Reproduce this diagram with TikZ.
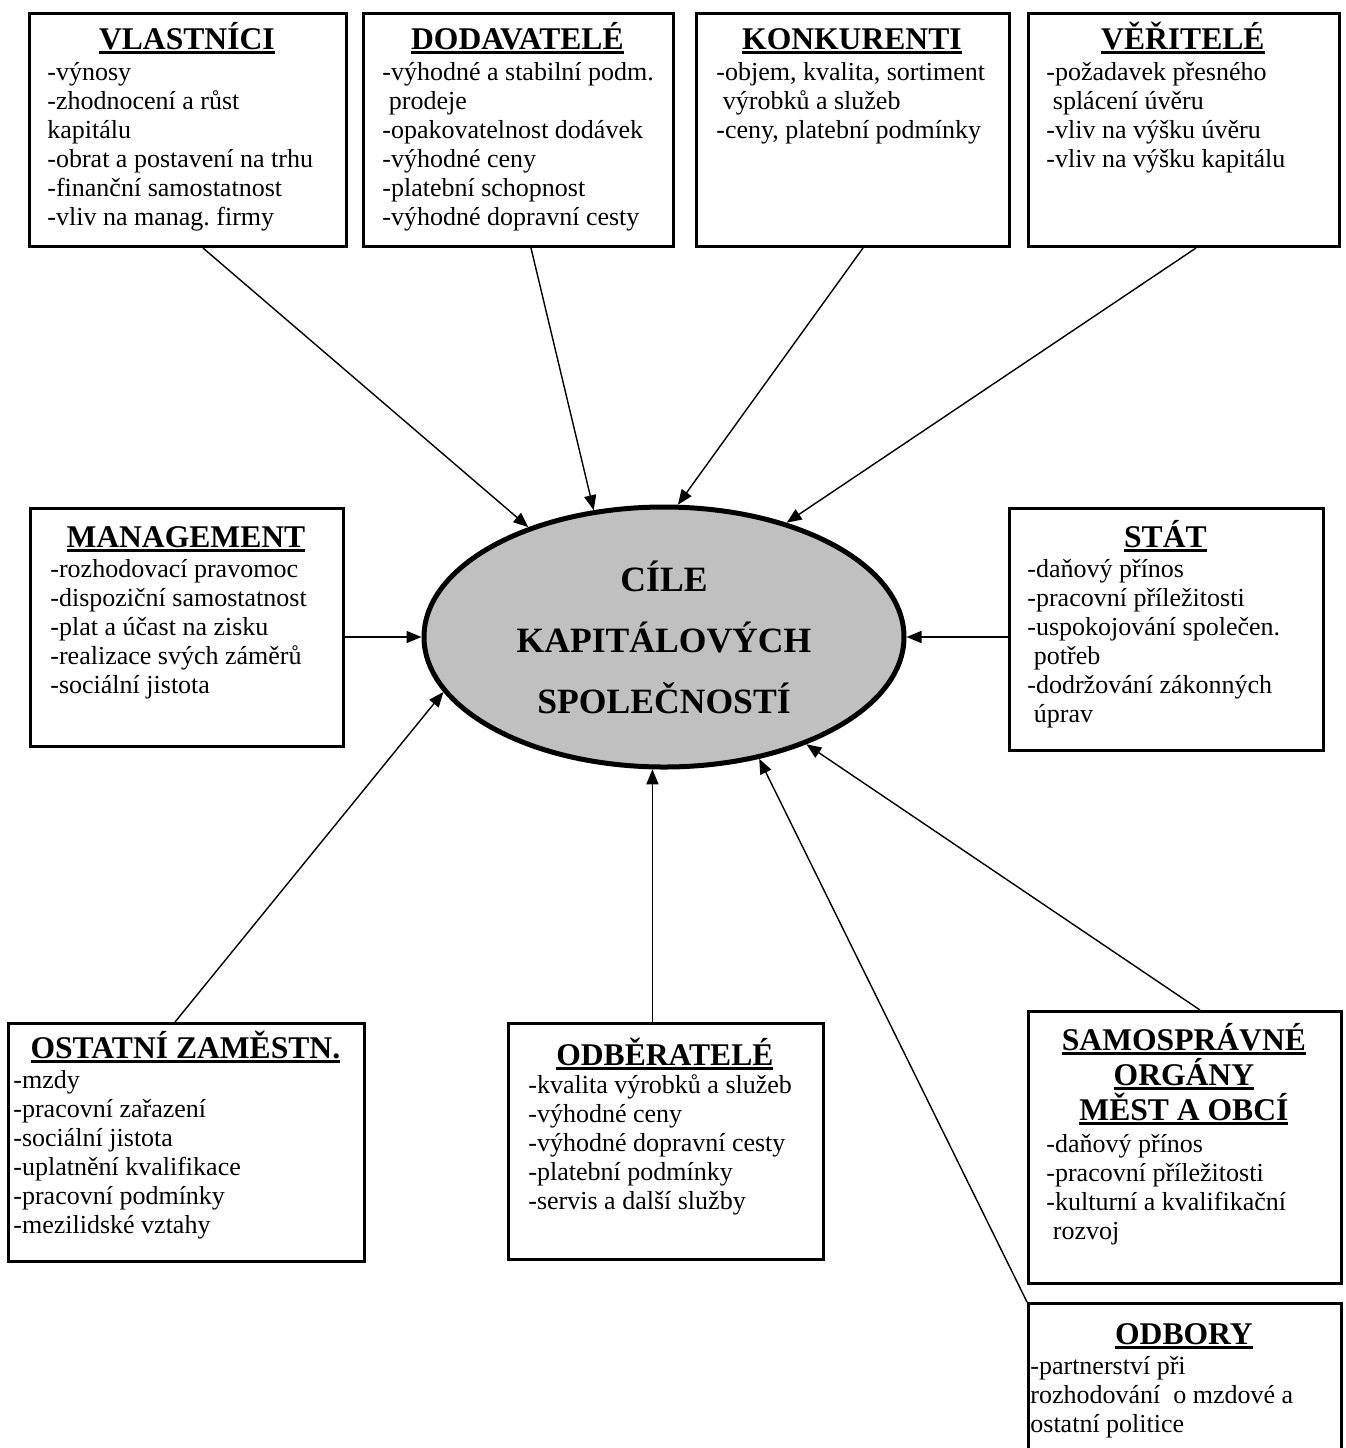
\documentclass[tikz,border=0pt]{standalone}
\usepackage{fontspec}
\setmainfont{Liberation Serif}
\usetikzlibrary{shapes.geometric,arrows.meta,calc}
\definecolor{ellgray}{RGB}{192,192,192}
\frenchspacing

% underlined bold heading
\newcommand\hdline[1]{\setbox0\hbox{\fontsize{15.8}{17}\selectfont\bfseries #1}\rlap{\copy0}\rule[-2.4pt]{\wd0}{1.4pt}}
% heading centred on a given width, with no vertical extent of its own
\newcommand\boxtitle[2]{\makebox[#1][c]{\smash{\hdline{#2}}}}
% first heading of a box: fixed height so that the node top is at a known distance from the baseline
\newcommand\firsttitle[2]{\rule{0pt}{12pt}\boxtitle{#1}{#2}}

\tikzset{
  frame/.style={draw, line width=1.5pt, inner sep=0pt, anchor=north west},
  txt/.style={anchor=north west, inner sep=0pt, align=left, font=\fontsize{13}{14.5}\selectfont},
  conn/.style={line width=0.7pt, -{Triangle[length=7.5pt,width=6pt]}},
  centre/.style={ellipse, draw, line width=2.5pt, fill=ellgray, inner sep=0pt,
    minimum width=240pt, minimum height=130pt, align=center,
    font=\fontsize{17.8}{30.5}\selectfont\bfseries}
}

\begin{document}
\begin{tikzpicture}[x=0.5pt, y=-0.5pt]
\clip (0,0) rectangle (1346,1448);

% central ellipse
\node[centre] (ce) at (664,637) {CÍLE\\KAPITÁLOVÝCH\\SPOLEČNOSTÍ};

% top row
\node[frame, minimum width=158.5pt, minimum height=116.5pt] (vl) at (28,12) {};
\node[txt] (vlt) at (47,25) {\firsttitle{139.5pt}{VLASTNÍCI}\\[1pt]
-výnosy\\-zhodnocení a růst\\kapitálu\\-obrat a postavení na trhu\\-finanční samostatnost\\-vliv na manag. firmy};

\node[frame, minimum width=155pt, minimum height=116.5pt] (do) at (362,12) {};
\node[txt] (dot) at (382,25) {\firsttitle{135pt}{DODAVATELÉ}\\[1pt]
-výhodné a stabilní podm.\\\ prodeje\\-opakovatelnost dodávek\\-výhodné ceny\\-platební schopnost\\-výhodné dopravní cesty};

\node[frame, minimum width=156.5pt, minimum height=116.5pt] (ko) at (695,12) {};
\node[txt] (kot) at (716,25) {\firsttitle{135.5pt}{KONKURENTI}\\[1pt]
-objem, kvalita, sortiment\\\ výrobků a služeb\\-ceny, platební podmínky};

\node[frame, minimum width=155.5pt, minimum height=116.5pt] (ve) at (1027,12) {};
\node[txt] (vet) at (1046,25) {\firsttitle{136.5pt}{VĚŘITELÉ}\\[1pt]
-požadavek přesného\\\ splácení úvěru\\-vliv na výšku úvěru\\-vliv na výšku kapitálu};

% middle row
\node[frame, minimum width=156.5pt, minimum height=119pt] (ma) at (29,507) {};
\node[txt] (mat) at (50,523) {\firsttitle{135.5pt}{MANAGEMENT}\\[0.5pt]
-rozhodovací pravomoc\\-dispoziční samostatnost\\-plat a účast na zisku\\-realizace svých záměrů\\-sociální jistota};

\node[frame, minimum width=157pt, minimum height=121pt] (st) at (1008,507) {};
\node[txt] (stt) at (1027,523) {\firsttitle{138pt}{STÁT}\\[0.5pt]
-daňový přínos\\-pracovní příležitosti\\-uspokojování společen.\\\ potřeb\\-dodržování zákonných\\\ úprav};

% bottom row
\node[frame, minimum width=178pt, minimum height=119pt] (oz) at (7,1022) {};
\node[txt] (ozt) at (13,1034) {\firsttitle{172pt}{OSTATNÍ ZAMĚSTN.}\\[0.5pt]
-mzdy\\-pracovní zařazení\\-sociální jistota\\-uplatnění kvalifikace\\-pracovní podmínky\\-mezilidské vztahy};

\node[frame, minimum width=157.5pt, minimum height=118pt] (od) at (507,1022) {};
\node[txt] (odt) at (528,1041) {\firsttitle{136.5pt}{ODBĚRATELÉ}\\[-0.5pt]
-kvalita výrobků a služeb\\-výhodné ceny\\-výhodné dopravní cesty\\-platební podmínky\\-servis a další služby};

\node[frame, minimum width=156.5pt, minimum height=136pt] (sa) at (1027,1010) {};
\node[txt] (sat) at (1046,1026) {\firsttitle{137.5pt}{SAMOSPRÁVNÉ}\\[3pt]
\boxtitle{137.5pt}{ORGÁNY}\\[3pt]\boxtitle{137.5pt}{MĚST A OBCÍ}\\[1.5pt]
-daňový přínos\\-pracovní příležitosti\\-kulturní a kvalifikační\\\ rozvoj};

\node[frame, minimum width=156.5pt, minimum height=110pt] (ob) at (1027,1302) {};
\node[txt] (obt) at (1030,1320) {\firsttitle{153.5pt}{ODBORY}\\[0.5pt]
-partnerství při\\rozhodování\ \ o mzdové a\\ostatní politice};

% connectors into the ellipse
\draw[conn] ($(vl.south west)+(175,0)$) -- (ce.141);
\draw[conn] ($(do.south west)+(169,0)$) -- (ce.119);
\draw[conn] ($(ko.south west)+(168,0)$) -- (ce.84.5);
\draw[conn] ($(ve.south west)+(169,0)$) -- (ce.43);
\draw[conn] (ma.east |- ce.west) -- (ce.west);
\draw[conn] (st.west |- ce.east) -- (ce.east);
\draw[conn] ($(oz.north west)+(168,0)$) -- (ce.194);
\draw[conn] (ce.265 |- od.north) -- (ce.265);
\draw[conn] ($(sa.north west)+(173,0)$) -- (ce.323);
\draw[conn] (ob.north west) -- (ce.308);
\end{tikzpicture}
\end{document}
